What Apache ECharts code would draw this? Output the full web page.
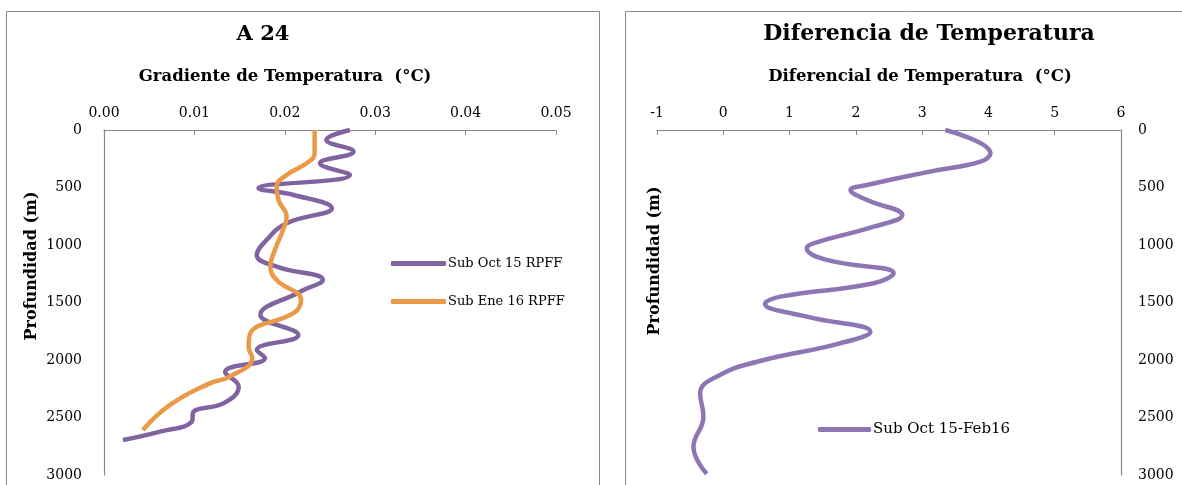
<!DOCTYPE html>
<html><head><meta charset="utf-8">
<script src="https://cdn.jsdelivr.net/npm/echarts@6/dist/echarts.min.js"></script>
<style>html,body{margin:0;padding:0;background:#fff}#c{width:1182px;height:485px}</style>
</head><body><div id="c"></div>
<script>
// Left panel: A 24 — gradient vs depth
const depthOct = [0, 87, 188, 289, 391, 507, 565, 680, 811, 955, 1087, 1188, 1304, 1406, 1609, 1783, 1913, 1983, 2105, 2232, 2377, 2450, 2537, 2623, 2696];
const gradOct  = [0.0272, 0.0246, 0.0276, 0.0239, 0.0272, 0.0171, 0.0210, 0.0252, 0.0202, 0.0180, 0.0169, 0.0191, 0.0242, 0.0217, 0.0173, 0.0215, 0.0169, 0.0178, 0.0134, 0.0149, 0.0132, 0.0099, 0.0097, 0.0062, 0.0021];
const depthEne = [0, 200, 290, 391, 493, 609, 754, 870, 1043, 1188, 1304, 1478, 1591, 1765, 1887, 1983, 2145, 2203, 2391, 2609];
const gradEne  = [0.0233, 0.0233, 0.0224, 0.0202, 0.0191, 0.0193, 0.0202, 0.0198, 0.0189, 0.0184, 0.0191, 0.0218, 0.0210, 0.0162, 0.0160, 0.0164, 0.0139, 0.0117, 0.0073, 0.0043];
// Right panel: temperature difference vs depth
const depthDiff = [0, 203, 275, 362, 478, 522, 609, 739, 841, 985, 1029, 1130, 1246, 1333, 1449, 1510, 1623, 1754, 1855, 2015, 2130, 2290, 2493, 2754, 2990];
const tempDiff  = [3.35, 4.03, 3.88, 3.12, 2.17, 1.92, 2.17, 2.70, 2.27, 1.36, 1.26, 1.56, 2.57, 2.27, 0.86, 0.63, 1.26, 2.22, 1.76, 0.51, -0.05, -0.35, -0.30, -0.45, -0.25];
const seriesNames = ['Sub Oct 15 RPFF', 'Sub Ene 16 RPFF', 'Sub Oct 15-Feb16'];

const F = 'DejaVu Serif';
const pair = (xs, ys) => xs.map((x, i) => [x, ys[i]]);
const axisLine = {show: true, onZero: false, lineStyle: {color: '#888', width: 1.2}};
const SM = 0.45;

const chart = echarts.init(document.getElementById('c'));
chart.setOption({
  animation: false,
  backgroundColor: '#fff',
  title: [
    {text: 'A 24', left: 258, top: 19, textAlign: 'center', textStyle: {fontFamily: F, fontWeight: 'bold', fontSize: 21, color: '#000'}},
    {text: 'Diferencia de Temperatura', left: 924, top: 18, textAlign: 'center', textStyle: {fontFamily: F, fontWeight: 'bold', fontSize: 22, color: '#000'}}
  ],
  grid: [
    {left: 104, top: 130, width: 452, height: 345},
    {left: 657, top: 130, width: 464, height: 345}
  ],
  xAxis: [
    {gridIndex: 0, type: 'value', position: 'top', min: 0, max: 0.05, interval: 0.01,
     axisLine: axisLine, axisTick: {show: true, inside: true, length: 5, lineStyle: {color: '#888'}},
     splitLine: {show: false},
     axisLabel: {fontFamily: F, fontSize: 14, color: '#000', margin: 10, formatter: v => v.toFixed(2)}},
    {gridIndex: 1, type: 'value', position: 'top', min: -1, max: 6, interval: 1,
     axisLine: axisLine, axisTick: {show: true, inside: true, length: 5, lineStyle: {color: '#888'}},
     splitLine: {show: false},
     axisLabel: {fontFamily: F, fontSize: 14, color: '#000', margin: 10}}
  ],
  yAxis: [
    {gridIndex: 0, type: 'value', inverse: true, min: 0, max: 3000, interval: 500, position: 'left',
     axisLine: axisLine, axisTick: {show: false}, splitLine: {show: false},
     axisLabel: {fontFamily: F, fontSize: 14, color: '#000', margin: 22, formatter: v => String(v)}},
    {gridIndex: 1, type: 'value', inverse: true, min: 0, max: 3000, interval: 500, position: 'right',
     axisLine: axisLine, axisTick: {show: false}, splitLine: {show: false},
     axisLabel: {fontFamily: F, fontSize: 14, color: '#000', margin: 17, formatter: v => String(v)}}
  ],
  legend: [
    {orient: 'vertical', left: 386, top: 252, itemGap: 25, itemWidth: 55, itemHeight: 5, icon: 'roundRect',
     data: [seriesNames[0], seriesNames[1]], textStyle: {fontFamily: F, fontSize: 13, color: '#000', padding: [0, 0, 0, -3]}},
    {orient: 'vertical', left: 813, top: 417, itemWidth: 53, itemHeight: 5, icon: 'roundRect',
     data: [seriesNames[2]], textStyle: {fontFamily: F, fontSize: 15, color: '#000', padding: [0, 0, 0, -3]}}
  ],
  graphic: [
    {type: 'rect', shape: {x: 6.5, y: 11.5, width: 593, height: 490}, style: {fill: 'none', stroke: '#8a8a8a', lineWidth: 1}, z: -1},
    {type: 'rect', shape: {x: 625.5, y: 11.5, width: 560, height: 490}, style: {fill: 'none', stroke: '#8a8a8a', lineWidth: 1}, z: -1},
    {type: 'text', x: 285, y: 77, style: {text: 'Gradiente de Temperatura  (°C)', fontFamily: F, fontWeight: 'bold', fontSize: 16.5, fill: '#000', align: 'center', verticalAlign: 'middle'}},
    {type: 'text', x: 920, y: 77, style: {text: 'Diferencial de Temperatura  (°C)', fontFamily: F, fontWeight: 'bold', fontSize: 16.5, fill: '#000', align: 'center', verticalAlign: 'middle'}},
    {type: 'text', x: 32, y: 266, rotation: Math.PI / 2, style: {text: 'Profundidad (m)', fontFamily: F, fontWeight: 'bold', fontSize: 16, fill: '#000', align: 'center', verticalAlign: 'middle'}},
    {type: 'text', x: 655, y: 261, rotation: Math.PI / 2, style: {text: 'Profundidad (m)', fontFamily: F, fontWeight: 'bold', fontSize: 16, fill: '#000', align: 'center', verticalAlign: 'middle'}}
  ],
  series: [
    {name: seriesNames[0], type: 'line', xAxisIndex: 0, yAxisIndex: 0, smooth: SM, showSymbol: false,
     data: pair(gradOct, depthOct), lineStyle: {color: '#7f64a1', width: 4.5}, itemStyle: {color: '#7f64a1'}},
    {name: seriesNames[1], type: 'line', xAxisIndex: 0, yAxisIndex: 0, smooth: SM, showSymbol: false,
     data: pair(gradEne, depthEne), lineStyle: {color: '#ea9948', width: 4.5}, itemStyle: {color: '#ea9948'}},
    {name: seriesNames[2], type: 'line', xAxisIndex: 1, yAxisIndex: 1, smooth: SM, showSymbol: false,
     data: pair(tempDiff, depthDiff), lineStyle: {color: '#8e76b4', width: 4.5}, itemStyle: {color: '#8e76b4'}}
  ]
});
</script></body></html>
